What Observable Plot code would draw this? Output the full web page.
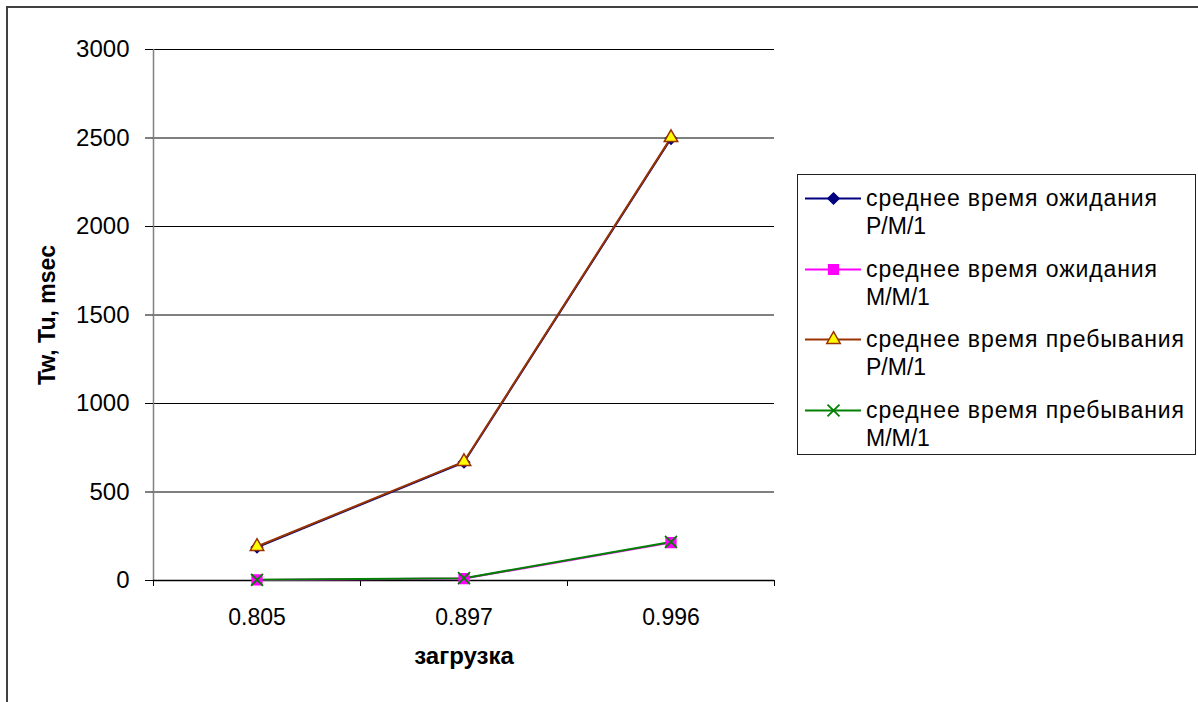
<!DOCTYPE html>
<html>
<head>
<meta charset="utf-8">
<script src="https://cdn.jsdelivr.net/npm/d3@7"></script>
<script src="https://cdn.jsdelivr.net/npm/@observablehq/plot@0.6"></script>
<style>
  html, body { margin: 0; padding: 0; background: #fff; }
  #wrap { position: relative; width: 1198px; height: 702px; overflow: hidden; font-family: "Liberation Sans", Arial, sans-serif; }
  #frame { position: absolute; left: 6px; top: 6px; width: 1300px; height: 800px; border-top: 2px solid #404040; border-left: 2px solid #404040; box-sizing: border-box; }
  #chart { position: absolute; left: 0; top: 0; }
  #legend { position: absolute; left: 797px; top: 174px; width: 399px; height: 281px; border: 1px solid #202020; box-sizing: border-box; background: #fff; }
  .entry { position: absolute; left: 0; width: 399px; font-size: 23px; line-height: 28px; color: #000; }
  .entry svg { position: absolute; left: 7px; top: 4px; }
  .entry .txt { position: absolute; left: 68px; top: 0; white-space: nowrap; }
  .entry .l1 { letter-spacing: 0.9px; }
</style>
</head>
<body>
<div id="wrap">
  <div id="frame"></div>
  <div id="chart"></div>
  <div id="legend"></div>
</div>
<script>
const categories = ["0.805", "0.897", "0.996"];
const waitPM1 = [188, 668, 2497];
const waitMM1 = [3, 11, 214];
const sojPM1 = [192, 672, 2502];
const sojMM1 = [4, 13, 218];
const seriesNames = [
  ["среднее время ожидания", "P/M/1"],
  ["среднее время ожидания", "M/M/1"],
  ["среднее время пребывания", "P/M/1"],
  ["среднее время пребывания", "M/M/1"]
];
const yTicks = [0, 500, 1000, 1500, 2000, 2500, 3000];
const xLabel = "загрузка";
const yLabel = "Tw, Tu, msec";

const styles = [
  {line: "#000080", symbol: "diamond2", fill: "#000080", stroke: "#000080", r: 5},
  {line: "#FF00FF", symbol: "square", fill: "#FF00FF", stroke: "#FF00FF", r: 5.5},
  {line: "#993300", symbol: "triangle", fill: "#FFFF00", stroke: "#993300", r: 5},
  {line: "#008000", symbol: "times", fill: "none", stroke: "#008000", r: 5.5}
];
const seriesValues = [waitPM1, waitMM1, sojPM1, sojMM1];
const series = seriesValues.map((vals, s) =>
  vals.map((v, i) => ({s, x: i + 0.5, y: v}))
);
const bounds = d3.range(categories.length + 1);
const mids = categories.map((c, i) => i + 0.5);

const marks = [
  Plot.gridY(yTicks, {stroke: "#000", strokeOpacity: 1, strokeWidth: 1}),
  Plot.ruleX([0], {stroke: "#808080", strokeWidth: 1.5}),
  Plot.axisY({ticks: yTicks, tickSize: 8, tickPadding: 16, tickFormat: d => String(d), label: null, stroke: "#000", fontSize: 24}),
  Plot.axisX({ticks: bounds, tickSize: 6, tickFormat: () => "", label: null, stroke: "#000"}),
  Plot.axisX({ticks: mids, tickSize: 0, tickPadding: 28, tickFormat: d => categories[Math.floor(d)], label: null, fontSize: 23}),
  Plot.ruleY([0], {stroke: "#000", strokeWidth: 1.5}),
  Plot.text([yLabel], {frameAnchor: "left", textAnchor: "middle", rotate: -90, dx: -106, fontWeight: "bold", fontSize: 23, text: d => d}),
  Plot.text([xLabel], {frameAnchor: "bottom", textAnchor: "middle", dy: 83, fontWeight: "bold", fontSize: 24, text: d => d})
];
series.forEach((data, s) => {
  marks.push(Plot.line(data, {x: "x", y: "y", stroke: styles[s].line, strokeWidth: 2}));
});
series.forEach((data, s) => {
  const st = styles[s];
  marks.push(Plot.dot(data, {x: "x", y: "y", symbol: st.symbol, r: st.r, fill: st.fill, stroke: st.stroke, strokeWidth: st.symbol === "times" ? 1.8 : 1.5}));
});

const chart = Plot.plot({
  width: 1198,
  height: 702,
  marginLeft: 153,
  marginRight: 424,
  marginTop: 49,
  marginBottom: 122,
  x: {domain: [0, categories.length]},
  y: {domain: [0, 3000]},
  style: {fontFamily: "'Liberation Sans', Arial, sans-serif", fontSize: "22px", background: "transparent", color: "#000"},
  marks
});
document.getElementById("chart").appendChild(chart);

// Legend
const legend = document.getElementById("legend");
seriesNames.forEach((name, s) => {
  const st = styles[s];
  const div = document.createElement("div");
  div.className = "entry";
  div.style.top = (9 + s * 70.5) + "px";
  const sw = Plot.plot({
    width: 56, height: 20, margin: 0,
    x: {domain: [0, 2], axis: null},
    y: {domain: [0, 1], axis: null},
    style: {background: "transparent"},
    marks: [
      Plot.line([{x: 0, y: 0.5}, {x: 2, y: 0.5}], {x: "x", y: "y", stroke: st.line, strokeWidth: 2}),
      Plot.dot([{x: 1, y: 0.5}], {x: "x", y: "y", symbol: st.symbol, r: st.r, fill: st.fill, stroke: st.stroke, strokeWidth: st.symbol === "times" ? 1.8 : 1.5})
    ]
  });
  div.appendChild(sw);
  const t = document.createElement("div");
  t.className = "txt";
  const l1 = document.createElement("div");
  l1.className = "l1";
  l1.textContent = name[0];
  const l2 = document.createElement("div");
  l2.textContent = name[1];
  t.appendChild(l1);
  t.appendChild(l2);
  div.appendChild(t);
  legend.appendChild(div);
});
</script>
</body>
</html>
